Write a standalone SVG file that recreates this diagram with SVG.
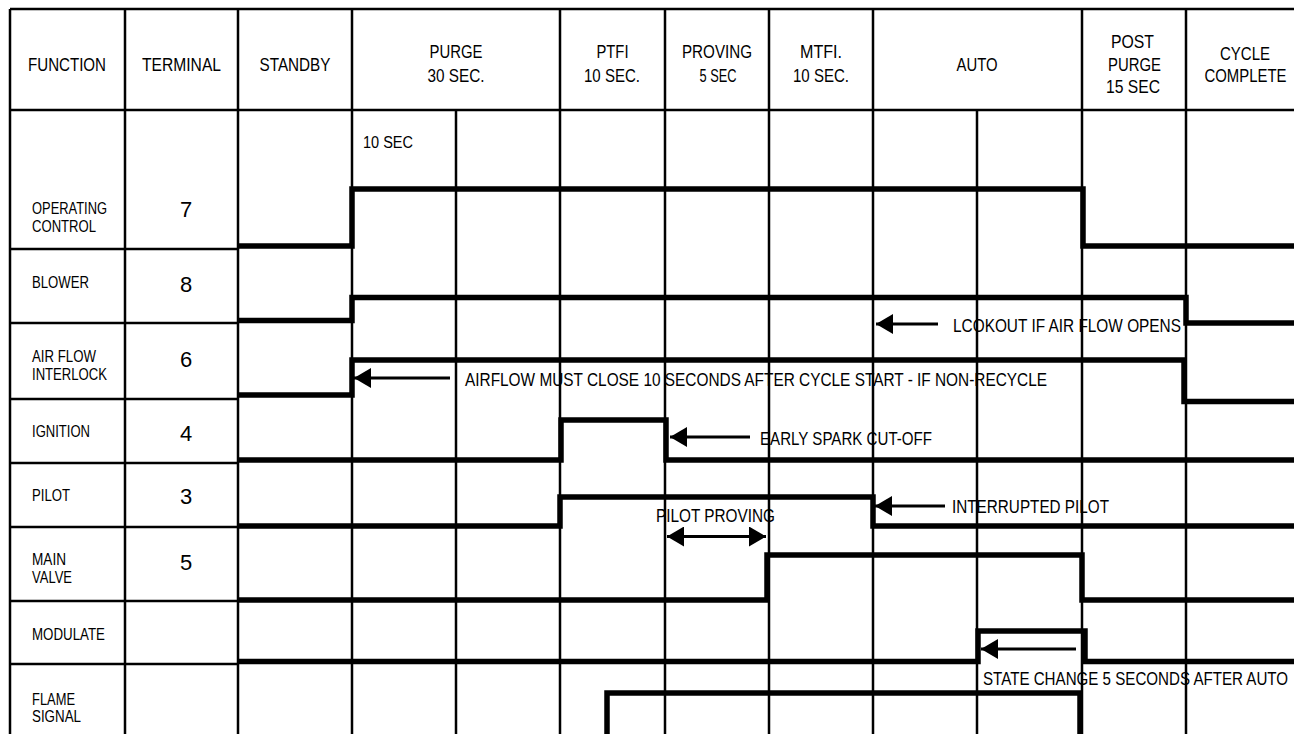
<svg xmlns="http://www.w3.org/2000/svg" width="1294" height="734" viewBox="0 0 1294 734">
<style>
.g{stroke:#000;stroke-width:2.5;fill:none}
.s{stroke:#000;stroke-width:5.5;fill:none;stroke-linejoin:miter;stroke-linecap:butt}
.c{stroke:#000;stroke-width:3;fill:none}
text{font-family:"Liberation Sans Narrow","Liberation Sans",Arial,sans-serif;fill:#000}
.h{font-size:19px;text-anchor:middle}
.l{font-size:16px}
.n{font-family:"Liberation Sans",Arial,sans-serif;font-size:22px;text-anchor:middle}
.a{font-size:18.5px}
</style>
<defs>
<marker id="ah" markerUnits="userSpaceOnUse" markerWidth="17" markerHeight="20" refX="17" refY="10" orient="auto-start-reverse" viewBox="0 0 17 20">
<path d="M0,0 L17,10 L0,20 Z" fill="#000"/>
</marker>
</defs>
<rect width="1294" height="734" fill="#fff"/>
<g id="grid" class="g">
<line x1="10" y1="9" x2="1294" y2="9"/>
<line x1="10" y1="110" x2="1294" y2="110"/>
<line x1="10" y1="9" x2="10" y2="734"/>
<line x1="125" y1="9" x2="125" y2="734"/>
<line x1="238" y1="9" x2="238" y2="734"/>
<line x1="352" y1="9" x2="352" y2="734"/>
<line x1="456" y1="110" x2="456" y2="734"/>
<line x1="560" y1="9" x2="560" y2="734"/>
<line x1="665" y1="9" x2="665" y2="734"/>
<line x1="769" y1="9" x2="769" y2="734"/>
<line x1="873" y1="9" x2="873" y2="734"/>
<line x1="977" y1="110" x2="977" y2="734"/>
<line x1="1082" y1="9" x2="1082" y2="734"/>
<line x1="1186" y1="9" x2="1186" y2="734"/>
<line x1="10" y1="249" x2="238" y2="249"/>
<line x1="10" y1="323" x2="238" y2="323"/>
<line x1="10" y1="399" x2="238" y2="399"/>
<line x1="10" y1="463" x2="238" y2="463"/>
<line x1="10" y1="527" x2="238" y2="527"/>
<line x1="10" y1="601" x2="238" y2="601"/>
<line x1="10" y1="664" x2="238" y2="664"/>
</g>
<g id="header">
<text class="h" x="67" y="70.5" textLength="78" lengthAdjust="spacingAndGlyphs">FUNCTION</text>
<text class="h" x="181.5" y="70.5" textLength="79" lengthAdjust="spacingAndGlyphs">TERMINAL</text>
<text class="h" x="295" y="70.5" textLength="71" lengthAdjust="spacingAndGlyphs">STANDBY</text>
<text class="h" x="456" y="58" textLength="53" lengthAdjust="spacingAndGlyphs">PURGE</text>
<text class="h" x="456" y="82" textLength="57" lengthAdjust="spacingAndGlyphs">30 SEC.</text>
<text class="h" x="612.5" y="58" textLength="32" lengthAdjust="spacingAndGlyphs">PTFI</text>
<text class="h" x="612" y="82" textLength="56" lengthAdjust="spacingAndGlyphs">10 SEC.</text>
<text class="h" x="717" y="58" textLength="70" lengthAdjust="spacingAndGlyphs">PROVING</text>
<text class="h" x="718" y="82" textLength="37" lengthAdjust="spacingAndGlyphs">5 SEC</text>
<text class="h" x="821" y="58" textLength="42" lengthAdjust="spacingAndGlyphs">MTFI.</text>
<text class="h" x="821" y="82" textLength="56" lengthAdjust="spacingAndGlyphs">10 SEC.</text>
<text class="h" x="977" y="70.5" textLength="41" lengthAdjust="spacingAndGlyphs">AUTO</text>
<text class="h" x="1132.5" y="48" textLength="43" lengthAdjust="spacingAndGlyphs">POST</text>
<text class="h" x="1134.5" y="71" textLength="53" lengthAdjust="spacingAndGlyphs">PURGE</text>
<text class="h" x="1133" y="93" textLength="54" lengthAdjust="spacingAndGlyphs">15 SEC</text>
<text class="h" x="1245" y="60" textLength="50" lengthAdjust="spacingAndGlyphs">CYCLE</text>
<text class="h" transform="translate(1245.5,82) scale(0.785,1)" x="0" y="0">COMPLETE</text>
<text class="l" x="363" y="147.5" textLength="50" lengthAdjust="spacingAndGlyphs">10 SEC</text>
</g>
<g id="row-operating-control">
<text class="l" x="32" y="214" textLength="75" lengthAdjust="spacingAndGlyphs">OPERATING</text>
<text class="l" x="32" y="232" textLength="64" lengthAdjust="spacingAndGlyphs">CONTROL</text>
<text class="n" x="186" y="216.5">7</text>
<polyline class="s" points="238,246 352,246 352,189 1083,189 1083,246 1294,246"/>
</g>
<g id="row-blower">
<text class="l" x="32" y="288" textLength="57" lengthAdjust="spacingAndGlyphs">BLOWER</text>
<text class="n" x="186" y="292">8</text>
<polyline class="s" points="238,320.5 352,320.5 352,297.5 1186,297.5 1186,323 1294,323"/>
</g>
<g id="row-air-flow-interlock">
<text class="l" x="32" y="362" textLength="64" lengthAdjust="spacingAndGlyphs">AIR FLOW</text>
<text class="l" x="32" y="380" textLength="75" lengthAdjust="spacingAndGlyphs">INTERLOCK</text>
<text class="n" x="186" y="367">6</text>
<polyline class="s" points="238,395 352,395 352,360 1184,360 1184,401.5 1294,401.5"/>
</g>
<g id="row-ignition">
<text class="l" x="32" y="437" textLength="58" lengthAdjust="spacingAndGlyphs">IGNITION</text>
<text class="n" x="186" y="441">4</text>
<polyline class="s" points="238,460 561,460 561,420 666,420 666,460 1294,460"/>
</g>
<g id="row-pilot">
<text class="l" x="32" y="501" textLength="38" lengthAdjust="spacingAndGlyphs">PILOT</text>
<text class="n" x="186" y="504">3</text>
<polyline class="s" points="238,526 560,526 560,497 873,497 873,526 1294,526"/>
</g>
<g id="row-main-valve">
<text class="l" x="32" y="565" textLength="34" lengthAdjust="spacingAndGlyphs">MAIN</text>
<text class="l" x="32" y="583" textLength="40" lengthAdjust="spacingAndGlyphs">VALVE</text>
<text class="n" x="186" y="570">5</text>
<polyline class="s" points="238,600 767,600 767,555 1082,555 1082,600 1294,600"/>
</g>
<g id="row-modulate">
<text class="l" x="32" y="640" textLength="73" lengthAdjust="spacingAndGlyphs">MODULATE</text>
<polyline class="s" points="238,661.5 978,661.5 978,631 1085,631 1085,661.5 1294,661.5"/>
</g>
<g id="row-flame-signal">
<text class="l" x="32" y="705" textLength="43" lengthAdjust="spacingAndGlyphs">FLAME</text>
<text class="l" x="32" y="722" textLength="49" lengthAdjust="spacingAndGlyphs">SIGNAL</text>
<polyline class="s" points="607,734 607,693 1080,693 1080,734"/>
</g>
<g id="connectors" class="c">
<line x1="938" y1="324" x2="876" y2="324" marker-end="url(#ah)"/>
<line x1="450" y1="378" x2="354" y2="378" marker-end="url(#ah)"/>
<line x1="750" y1="437" x2="670" y2="437" marker-end="url(#ah)"/>
<line x1="945" y1="506" x2="875" y2="506" marker-end="url(#ah)"/>
<line x1="667" y1="536.5" x2="766" y2="536.5" marker-start="url(#ah)" marker-end="url(#ah)"/>
<line x1="1076" y1="649" x2="981" y2="649" marker-end="url(#ah)"/>
</g>
<g id="annotations">
<text class="a" x="953" y="331.5" textLength="228" lengthAdjust="spacingAndGlyphs">LCOKOUT IF AIR FLOW OPENS</text>
<text class="a" x="465" y="385.5" textLength="582" lengthAdjust="spacingAndGlyphs">AIRFLOW MUST CLOSE 10 SECONDS AFTER CYCLE START - IF NON-RECYCLE</text>
<text class="a" x="760" y="444.5" textLength="172" lengthAdjust="spacingAndGlyphs">EARLY SPARK CUT-OFF</text>
<text class="a" x="952" y="512.5" textLength="157" lengthAdjust="spacingAndGlyphs">INTERRUPTED PILOT</text>
<text class="a" x="656" y="521.5" textLength="119" lengthAdjust="spacingAndGlyphs">PILOT PROVING</text>
<text class="a" transform="translate(983,685) scale(0.818,1)" x="0" y="0">STATE CHANGE 5 SECONDS AFTER AUTO</text>
</g>
</svg>
